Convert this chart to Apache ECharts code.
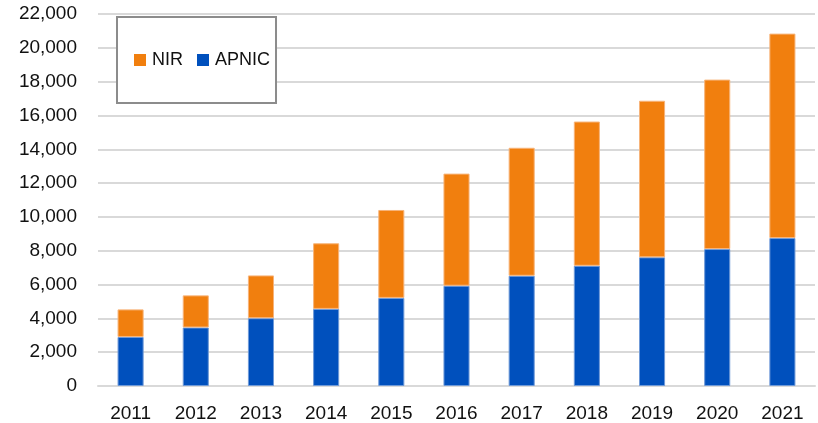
<!DOCTYPE html>
<html>
<head>
<meta charset="utf-8">
<script src="https://cdn.jsdelivr.net/npm/echarts@6/dist/echarts.min.js"></script>
<style>
html,body{margin:0;padding:0;background:#fff;}
#main{width:818px;height:423px;}
</style>
</head>
<body>
<div id="main"></div>
<script>
var years = ['2011','2012','2013','2014','2015','2016','2017','2018','2019','2020','2021'];
var apnic = [2900, 3460, 4010, 4560, 5210, 5930, 6520, 7110, 7610, 8100, 8750];
var nir = [1630, 1900, 2530, 3880, 5200, 6630, 7570, 8530, 9260, 10020, 12090];

var myChart = echarts.init(document.getElementById('main'));
var option = {
    animation: false,
    textStyle: { fontFamily: 'Liberation Sans' },
    legend: {
        data: ['NIR', 'APNIC'],
        left: 117,
        top: 17,
        orient: 'horizontal',
        padding: [34, 6, 34, 17],
        itemWidth: 12,
        itemHeight: 12,
        itemGap: 14,
        icon: 'rect',
        itemStyle: { borderWidth: 0 },
        backgroundColor: '#fff',
        borderColor: '#8c8c8c',
        borderWidth: 2,
        textStyle: { fontSize: 18, color: '#111', padding: [0, 0, 0, 1] },
        z: 10
    },
    grid: {
        left: 98,
        right: 3,
        top: 14,
        bottom: 37,
        containLabel: false
    },
    xAxis: {
        type: 'category',
        data: years,
        axisLine: { lineStyle: { color: '#d9d9d9', width: 2 } },
        axisTick: { show: false },
        axisLabel: { fontSize: 19, color: '#111', margin: 18 }
    },
    yAxis: {
        type: 'value',
        min: 0,
        max: 22000,
        interval: 2000,
        axisLine: { show: false },
        axisTick: { show: false },
        splitLine: { lineStyle: { color: '#d9d9d9', width: 2 } },
        axisLabel: {
            fontSize: 19,
            color: '#111',
            margin: 21,
            formatter: function (v) { return v.toLocaleString('en-US'); }
        }
    },
    series: [
        {
            name: 'APNIC',
            type: 'bar',
            stack: 'total',
            barWidth: '40%',
            data: apnic,
            itemStyle: { color: '#0050bd', borderColor: '#6f9ad8', borderWidth: 1 }
        },
        {
            name: 'NIR',
            type: 'bar',
            stack: 'total',
            barWidth: '40%',
            data: nir,
            itemStyle: { color: '#f17f0e', borderColor: '#f7b47a', borderWidth: 1 }
        }
    ]
};
myChart.setOption(option);
</script>
</body>
</html>
